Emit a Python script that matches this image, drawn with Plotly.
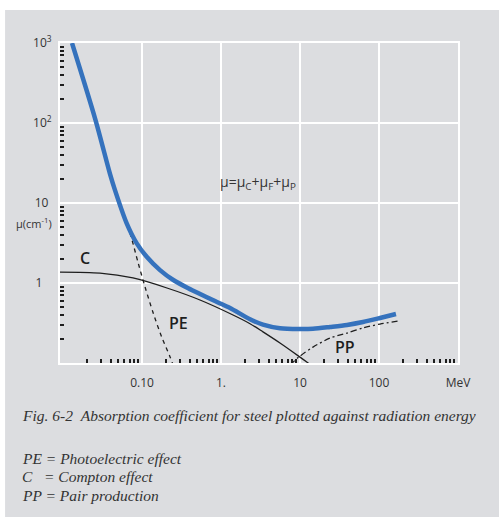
import plotly.graph_objects as go

# total absorption coefficient (MeV, 1/cm)
total_e = [0.0130, 0.0258, 0.0394, 0.0455, 0.064, 0.0858, 0.1147, 0.169, 0.249, 0.385,
           0.889, 1.30, 2.33, 3.40, 5.58, 9.70, 14.6, 24.0, 39.4, 62.7, 103, 164]
total_mu = [1000, 109, 23, 14.5, 5.57, 3.13, 2.13, 1.45, 1.09, 0.86,
            0.579, 0.487, 0.352, 0.302, 0.272, 0.266, 0.268, 0.282, 0.299, 0.325, 0.365, 0.41]

# Compton effect
c_e = [0.009, 0.0294, 0.0769, 0.207, 0.542, 1.42, 2.33, 3.40, 5.58, 9.7, 12.3, 13.5]
c_mu = [1.37, 1.33, 1.155, 0.866, 0.613, 0.398, 0.31, 0.245, 0.178, 0.121, 0.102, 0.095]

# photoelectric effect
pe_e = [0.0501, 0.0705, 0.0897, 0.109, 0.139, 0.177, 0.226, 0.25]
pe_mu = [9.9, 4.18, 1.76, 0.90, 0.418, 0.213, 0.120, 0.092]

# pair production
pp_e = [7.5, 9.7, 14.6, 24, 39.4, 62.7, 103, 174]
pp_mu = [0.095, 0.119, 0.158, 0.205, 0.237, 0.274, 0.307, 0.335]

x_tickvals = [0.1, 1, 10, 100, 1000]
x_ticktext = ["0.10", "1.", "10", "100", "MeV"]
y_tickvals = [1, 10, 100, 1000]
y_ticktext = ["1\u00a0\u00a0\u00a0", "10\u00a0", "10<sup>2</sup>", "10<sup>3</sup>"]

caption = "Fig. 6-2\u00a0\u00a0Absorption coefficient for steel plotted against radiation energy"
notes = ["PE = Photoelectric effect", "C\u00a0\u00a0\u00a0= Compton effect", "PP = Pair production"]

BG = "#dcdde0"
BLUE = "#3572bd"
INK = "#1e1e1e"

x_minor = [m * 10 ** k for k in range(-2, 3) for m in range(2, 10)]
y_minor = [m * 10 ** k for k in range(-1, 3) for m in range(2, 10)]

fig = go.Figure()
fig.add_trace(go.Scatter(x=c_e, y=c_mu, mode="lines",
                         line=dict(color=INK, width=1.3, shape="spline", smoothing=0.8)))
fig.add_trace(go.Scatter(x=pe_e, y=pe_mu, mode="lines",
                         line=dict(color=INK, width=1.3, dash="4px,4px", shape="spline", smoothing=0.8)))
fig.add_trace(go.Scatter(x=pp_e, y=pp_mu, mode="lines",
                         line=dict(color=INK, width=1.3, dash="6px,3px,2px,3px", shape="spline", smoothing=0.8)))
fig.add_trace(go.Scatter(x=total_e, y=total_mu, mode="lines",
                         line=dict(color=BLUE, width=4.5, shape="spline", smoothing=0.8)))

axis_font = dict(family="Open Sans", size=12, color="#333333")
fig.update_xaxes(type="log", range=[-2.038, 3.0], tickvals=x_tickvals, ticktext=x_ticktext,
                 ticks="", showgrid=True, gridcolor="white", gridwidth=2, automargin=False,
                 showline=True, linecolor="white", linewidth=2, mirror=True,
                 zeroline=False, tickfont=axis_font, ticklabelstandoff=8,
                 minor=dict(tickmode="array", tickvals=x_minor, ticks="inside", ticklen=4,
                            tickwidth=1.5, tickcolor=INK, showgrid=False))
fig.update_yaxes(type="log", range=[-1, 3], tickvals=y_tickvals, ticktext=y_ticktext,
                 ticks="", showgrid=True, gridcolor="white", gridwidth=2, automargin=False,
                 showline=True, linecolor="white", linewidth=2, mirror=True,
                 zeroline=False, tickfont=axis_font, ticklabelstandoff=4,
                 minor=dict(tickmode="array", tickvals=y_minor, ticks="inside", ticklen=4,
                            tickwidth=1.5, tickcolor=INK, showgrid=False))

label_font = dict(family="Open Sans", size=16, color=INK, weight=600)
fig.add_annotation(x=-1.72, y=0.3125, text="C", showarrow=False, font=label_font)
fig.add_annotation(x=-0.544, y=-0.5, text="PE", showarrow=False, font=label_font)
fig.add_annotation(x=1.57, y=-0.8, text="PP", showarrow=False, font=label_font)
fig.add_annotation(x=0.468, y=1.2625, text="μ=μ<sub>C</sub>+μ<sub>F</sub>+μ<sub>P</sub>",
                   showarrow=False, font=dict(family="Open Sans", size=14, color="#333333"))
fig.add_annotation(x=-0.015, y=0.4375, xref="paper", yref="paper", xanchor="right",
                   text="μ(cm<sup>-1</sup>)", showarrow=False,
                   font=dict(family="Open Sans", size=11, color="#333333"))

serif = dict(family="Liberation Serif", size=15.5, color="#333333")
fig.add_annotation(x=-0.1005, y=-0.1625, xref="paper", yref="paper", xanchor="left",
                   yanchor="middle", text="<i>" + caption + "</i>", showarrow=False, font=serif)
for i, line in enumerate(notes):
    fig.add_annotation(x=-0.1005, y=-0.297 - i * 0.058, xref="paper", yref="paper",
                       xanchor="left", yanchor="middle", text="<i>" + line + "</i>",
                       showarrow=False, font=serif)

fig.add_shape(type="rect", xref="paper", yref="paper", x0=-0.138, x1=1.2, y0=-0.6, y1=1.103,
              fillcolor=BG, line=dict(width=0), layer="below")

fig.update_layout(width=499, height=517, margin=dict(l=60, r=41, t=43, b=154),
                  paper_bgcolor="white", plot_bgcolor=BG, showlegend=False)

# the page's default body margin would push the figure 8px off
fig.write_html("out.html", config={"displayModeBar": False},
               post_script="document.body.style.margin='0';")
